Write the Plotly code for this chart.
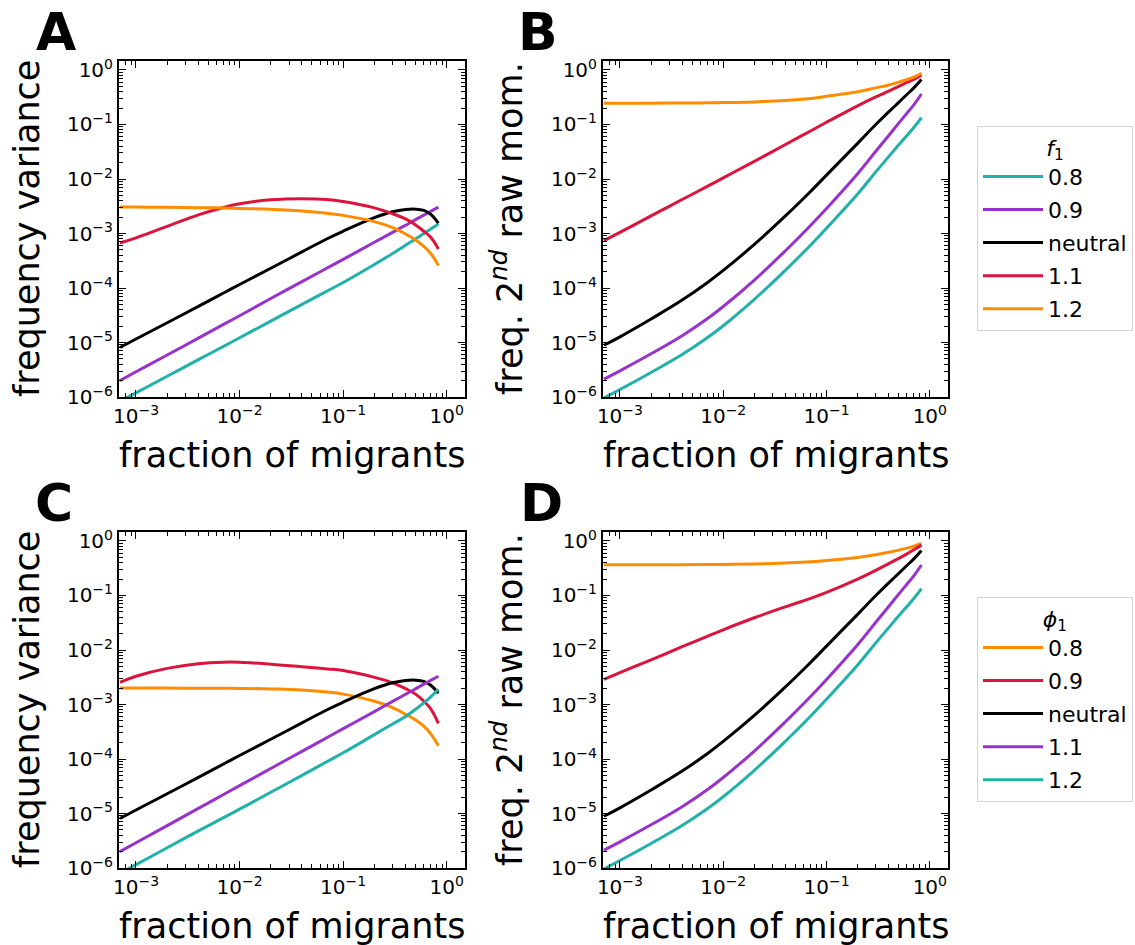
import plotly.graph_objects as go

W, H = 1135, 945
FONT = "DejaVu Sans"

# ---------------- data ----------------
X = [7e-4, 1e-3, 2e-3, 4e-3, 7e-3, 1e-2, 2e-2, 4e-2, 7e-2, 0.1, 0.2, 0.3, 0.4, 0.5, 0.6, 0.7, 0.83]

# Panel A: frequency variance, f1
var_f08 = [8.3e-7, 1.19e-6, 2.4e-6, 4.85e-6, 8.5e-6, 1.22e-5, 2.47e-5, 5.0e-5, 8.8e-5, 1.26e-4, 2.7e-4, 4.3e-4, 6.1e-4, 7.9e-4, 1.0e-3, 1.21e-3, 1.5e-3]
var_f09 = [2.0e-6, 2.9e-6, 5.9e-6, 1.2e-5, 2.15e-5, 3.1e-5, 6.4e-5, 1.31e-4, 2.33e-4, 3.35e-4, 6.9e-4, 1.05e-3, 1.42e-3, 1.8e-3, 2.17e-3, 2.55e-3, 3.05e-3]
var_neutral = [8.1e-6, 1.16e-5, 2.3e-5, 4.6e-5, 8.1e-5, 1.16e-4, 2.3e-4, 4.6e-4, 8.0e-4, 1.1e-3, 1.95e-3, 2.5e-3, 2.75e-3, 2.8e-3, 2.65e-3, 2.25e-3, 1.55e-3]
var_f11 = [6.7e-4, 8.3e-4, 1.35e-3, 2.2e-3, 3.0e-3, 3.5e-3, 4.15e-3, 4.35e-3, 4.2e-3, 3.85e-3, 2.95e-3, 2.3e-3, 1.85e-3, 1.43e-3, 1.1e-3, 8.5e-4, 5.2e-4]
var_f12 = [3.06e-3, 3.05e-3, 3.03e-3, 2.98e-3, 2.93e-3, 2.88e-3, 2.78e-3, 2.6e-3, 2.35e-3, 2.15e-3, 1.65e-3, 1.28e-3, 9.8e-4, 7.6e-4, 5.8e-4, 4.3e-4, 2.6e-4]

# Panel B: freq. 2nd raw moment, f1
m2_f08 = [9.6e-7, 1.37e-6, 2.82e-6, 6.0e-6, 1.22e-5, 2.03e-5, 6.2e-5, 2.12e-4, 6.1e-4, 1.25e-3, 5.3e-3, 1.35e-2, 2.57e-2, 4.24e-2, 6.3e-2, 8.8e-2, 0.134]
m2_f09 = [2.12e-6, 3.02e-6, 6.2e-6, 1.33e-5, 2.72e-5, 4.57e-5, 1.4e-4, 4.83e-4, 1.4e-3, 2.88e-3, 1.25e-2, 3.23e-2, 6.3e-2, 0.106, 0.161, 0.229, 0.362]
m2_neutral = [8.9e-6, 1.27e-5, 2.7e-5, 6.0e-5, 1.25e-4, 2.1e-4, 6.3e-4, 2.1e-3, 5.9e-3, 1.18e-2, 4.5e-2, 0.1, 0.17, 0.255, 0.355, 0.47, 0.67]
m2_f11 = [7.4e-4, 1.05e-3, 2.1e-3, 4.2e-3, 7.3e-3, 1.05e-2, 2.1e-2, 4.3e-2, 7.6e-2, 0.11, 0.22, 0.32, 0.41, 0.5, 0.59, 0.67, 0.8]
m2_f12 = [0.245, 0.245, 0.246, 0.248, 0.25, 0.252, 0.26, 0.275, 0.30, 0.33, 0.40, 0.47, 0.53, 0.6, 0.67, 0.74, 0.87]

# Panel C: frequency variance, phi1
var_phi08 = [2.0e-3, 2.0e-3, 2.0e-3, 1.99e-3, 1.98e-3, 1.97e-3, 1.93e-3, 1.85e-3, 1.7e-3, 1.55e-3, 1.15e-3, 8.8e-4, 6.6e-4, 5.2e-4, 4.0e-4, 2.9e-4, 1.75e-4]
var_phi09 = [2.55e-3, 3.3e-3, 4.6e-3, 5.6e-3, 5.97e-3, 5.95e-3, 5.5e-3, 4.95e-3, 4.5e-3, 4.2e-3, 3.15e-3, 2.5e-3, 1.95e-3, 1.55e-3, 1.15e-3, 8.3e-4, 4.5e-4]
var_phi_neutral = [8.1e-6, 1.16e-5, 2.3e-5, 4.6e-5, 8.1e-5, 1.16e-4, 2.3e-4, 4.6e-4, 8.0e-4, 1.1e-3, 1.95e-3, 2.5e-3, 2.75e-3, 2.8e-3, 2.65e-3, 2.25e-3, 1.6e-3]
var_phi11 = [2.0e-6, 2.9e-6, 6.0e-6, 1.24e-5, 2.23e-5, 3.24e-5, 6.7e-5, 1.38e-4, 2.48e-4, 3.6e-4, 7.4e-4, 1.14e-3, 1.54e-3, 1.94e-3, 2.36e-3, 2.77e-3, 3.3e-3]
var_phi12 = [8.0e-7, 1.15e-6, 2.35e-6, 4.8e-6, 8.4e-6, 1.2e-5, 2.45e-5, 5.0e-5, 9.0e-5, 1.3e-4, 2.8e-4, 4.4e-4, 6.0e-4, 8.2e-4, 1.07e-3, 1.38e-3, 1.9e-3]

# Panel D: freq. 2nd raw moment, phi1
m2_phi08 = [0.365, 0.365, 0.366, 0.368, 0.37, 0.372, 0.38, 0.395, 0.415, 0.44, 0.5, 0.56, 0.62, 0.68, 0.74, 0.8, 0.9]
m2_phi09 = [2.9e-3, 3.85e-3, 6.6e-3, 1.15e-2, 1.78e-2, 2.35e-2, 3.9e-2, 6.2e-2, 8.85e-2, 0.114, 0.2, 0.29, 0.385, 0.48, 0.58, 0.69, 0.84]
m2_phi_neutral = [8.9e-6, 1.27e-5, 2.7e-5, 6.0e-5, 1.25e-4, 2.1e-4, 6.3e-4, 2.1e-3, 5.9e-3, 1.18e-2, 4.5e-2, 0.1, 0.17, 0.255, 0.355, 0.47, 0.67]
m2_phi11 = [2.12e-6, 3.02e-6, 6.2e-6, 1.33e-5, 2.72e-5, 4.57e-5, 1.4e-4, 4.83e-4, 1.4e-3, 2.88e-3, 1.25e-2, 3.23e-2, 6.3e-2, 0.106, 0.161, 0.229, 0.362]
m2_phi12 = [9.6e-7, 1.37e-6, 2.82e-6, 6.0e-6, 1.22e-5, 2.03e-5, 6.2e-5, 2.12e-4, 6.1e-4, 1.25e-3, 5.3e-3, 1.35e-2, 2.57e-2, 4.24e-2, 6.3e-2, 8.8e-2, 0.134]

labels = ["0.8", "0.9", "neutral", "1.1", "1.2"]
x_tickvals = [1e-3, 1e-2, 1e-1, 1]
x_ticktext = ["10<sup>−3</sup>", "10<sup>−2</sup>", "10<sup>−1</sup>", "10<sup>0</sup>"]
y_tickvals = [1e-6, 1e-5, 1e-4, 1e-3, 1e-2, 1e-1, 1]
y_ticktext = ["10<sup>−6</sup>", "10<sup>−5</sup>", "10<sup>−4</sup>", "10<sup>−3</sup>",
              "10<sup>−2</sup>", "10<sup>−1</sup>", "10<sup>0</sup>"]

TEAL, PURPLE, BLACK, RED, ORANGE = "#20B2AA", "#9932CC", "#000000", "#DC143C", "#FF8C00"

# ---------------- figure ----------------
fig = go.Figure()

def add(ax, y, color, name, group, legend, show):
    fig.add_trace(go.Scatter(
        x=X, y=y, mode="lines", name=name, legendgroup=group, legend=legend,
        showlegend=show, xaxis="x" + ax, yaxis="y" + ax,
        line=dict(color=color, width=3, shape="spline", smoothing=1.2),
    ))

top_series_A = [var_f08, var_f09, var_neutral, var_f11, var_f12]
top_series_B = [m2_f08, m2_f09, m2_neutral, m2_f11, m2_f12]
top_colors = [TEAL, PURPLE, BLACK, RED, ORANGE]
for i in range(5):
    add("", top_series_A[i], top_colors[i], labels[i], "f" + str(i), "legend", True)
    add("2", top_series_B[i], top_colors[i], labels[i], "f" + str(i), "legend", False)

bot_series_C = [var_phi08, var_phi09, var_phi_neutral, var_phi11, var_phi12]
bot_series_D = [m2_phi08, m2_phi09, m2_phi_neutral, m2_phi11, m2_phi12]
bot_colors = [ORANGE, RED, BLACK, PURPLE, TEAL]
for i in range(5):
    add("3", bot_series_C[i], bot_colors[i], labels[i], "p" + str(i), "legend2", True)
    add("4", bot_series_D[i], bot_colors[i], labels[i], "p" + str(i), "legend2", False)

minor_vals = [m * 10 ** e for e in range(-7, 1) for m in range(2, 10)]

def axis_common(tickvals, ticktext, rng):
    return dict(
        type="log", range=rng, tickmode="array", tickvals=tickvals, ticktext=ticktext,
        ticks="inside", ticklen=7, tickwidth=1.4, tickcolor="black",
        showline=True, linecolor="black", linewidth=2, mirror="allticks",
        showgrid=False, zeroline=False, automargin=False,
        tickfont=dict(family=FONT, size=20, color="black"),
        minor=dict(tickmode="array", tickvals=minor_vals, ticks="inside", ticklen=4,
                   tickwidth=1, tickcolor="black", showgrid=False),
    )

XR = [-3.164, 0.176]
YR = [-6.0, 0.165]
colL = [119 / W, 465 / W]
colR = [603 / W, 948 / W]
rowT = [1 - 397 / H, 1 - 61 / H]
rowB = [1 - 868 / H, 1 - 532 / H]

layout = dict(
    width=W, height=H, margin=dict(l=0, r=0, t=0, b=0, pad=0, autoexpand=False),
    paper_bgcolor="white", plot_bgcolor="white",
    font=dict(family=FONT, color="black"),
)
for k, (dx, dy) in zip(["", "2", "3", "4"], [(colL, rowT), (colR, rowT), (colL, rowB), (colR, rowB)]):
    xa = axis_common(x_tickvals, x_ticktext, XR)
    xa.update(domain=dx, anchor="y" + k)
    ya = axis_common(y_tickvals, y_ticktext, YR)
    ya.update(domain=dy, anchor="x" + k)
    layout["xaxis" + k] = xa
    layout["yaxis" + k] = ya

legend_common = dict(
    xref="container", yref="container", xanchor="left", yanchor="top",
    bgcolor="white", bordercolor="#d4d4d4", borderwidth=1,
    font=dict(family=FONT, size=22, color="black"),
    tracegroupgap=1.5, itemwidth=60, traceorder="grouped",
)
layout["legend"] = dict(legend_common, x=977 / W, y=1 - 126 / H,
                        title=dict(text="<i>f</i><sub>1</sub>", side="top center",
                                   font=dict(family=FONT, size=22)))
layout["legend2"] = dict(legend_common, x=977 / W, y=1 - 597 / H,
                         title=dict(text="<i>ϕ</i><sub>1</sub>", side="top center",
                                    font=dict(family=FONT, size=22)))
fig.update_layout(**layout)

# ---------------- text: axis titles and panel letters ----------------
def ann(text, xpx, ypx, size, angle=0, bold=False):
    fig.add_annotation(
        text=("<b>%s</b>" % text) if bold else text, xref="paper", yref="paper",
        x=xpx / W, y=1 - ypx / H, xanchor="center", yanchor="middle",
        showarrow=False, textangle=angle,
        font=dict(family=FONT, size=size, color="black"),
    )

XT = "fraction of migrants"
YT_VAR = "frequency variance"
YT_M2 = "freq. 2<sup><i>nd</i></sup> raw mom."
ann(XT, 292, 455, 35)
ann(XT, 775.5, 455, 35)
ann(XT, 292, 926, 35)
ann(XT, 775.5, 926, 35)
ann(YT_VAR, 27, 229, 35, angle=-90)
ann(YT_M2, 507, 229, 35, angle=-90)
ann(YT_VAR, 27, 700, 35, angle=-90)
ann(YT_M2, 507, 700, 35, angle=-90)

ann("A", 55.5, 32, 52, bold=True)
ann("B", 538, 32, 52, bold=True)
ann("C", 53.5, 503, 52, bold=True)
ann("D", 541, 503, 52, bold=True)

fig.write_html("out.html", config={"displayModeBar": False})
